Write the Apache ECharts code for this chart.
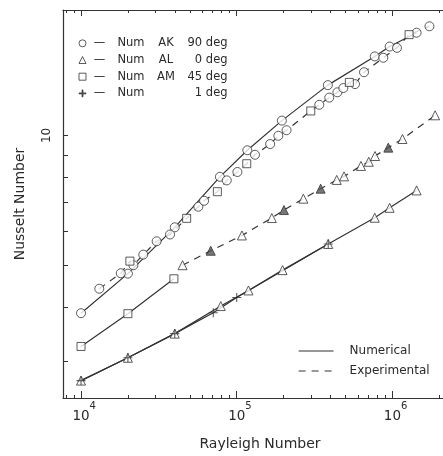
<!DOCTYPE html>
<html><head><meta charset="utf-8">
<script src="https://cdn.jsdelivr.net/npm/echarts@6/dist/echarts.min.js"></script>
<style>html,body{margin:0;padding:0;background:#fff}#c{width:443px;height:456px}</style>
</head><body><div id="c"></div>
<script>
// ---------- data (Rayleigh number, Nusselt number) ----------
// Numerical, solid lines
const numAK_Ra = [1e4, 2e4, 4e4, 7.8e4, 1.17e5, 1.95e5, 3.85e5, 7.7e5, 9.6e5, 1.43e6];
const numAK_Nu = [3.88, 4.79, 6.13, 8.02, 9.24, 10.82, 13.07, 15.23, 16.05, 17.28];
const numAM_Ra = [1e4, 2e4, 3.95e4];
const numAM_Nu = [3.25, 3.87, 4.66];
const numAL_Ra = [1e4, 2e4, 4e4, 7.9e4, 1.19e5, 1.97e5, 3.87e5, 7.7e5, 9.6e5, 1.43e6];
const numAL_Nu = [2.71, 3.06, 3.48, 4.03, 4.38, 4.88, 5.61, 6.45, 6.80, 7.46];
const num1_Ra  = [1e4, 2e4, 4e4, 7.07e4, 1e5, 3.87e5];
const num1_Nu  = [2.71, 3.06, 3.48, 3.89, 4.22, 5.61];
// Experimental, dashed lines
const expAK_Ra = [1.31e4, 1.80e4, 2.17e4, 2.51e4, 3.06e4, 3.73e4, 5.67e4, 6.17e4, 8.63e4, 1.01e5, 1.31e5, 1.64e5, 1.85e5, 2.09e5, 3.39e5, 3.93e5, 4.43e5, 4.84e5, 5.75e5, 6.57e5, 8.74e5, 1.07e6, 1.73e6];
const expAK_Nu = [4.42, 4.80, 5.01, 5.30, 5.69, 5.90, 6.84, 7.06, 7.87, 8.23, 9.02, 9.55, 9.98, 10.28, 11.77, 12.23, 12.58, 12.87, 13.14, 14.00, 15.12, 15.94, 17.88];
const expAM_Ra = [2.06e4, 4.77e4, 7.51e4, 1.16e5, 2.99e5, 5.29e5, 1.28e6];
const expAM_Nu = [5.12, 6.43, 7.41, 8.60, 11.39, 13.26, 17.10];
const expAL_Ra = [4.49e4, 6.81e4, 1.08e5, 1.68e5, 2.01e5, 2.68e5, 3.46e5, 4.39e5, 4.89e5, 6.28e5, 7.05e5, 7.73e5, 9.41e5, 1.16e6, 1.88e6];
const expAL_Nu = [5.01, 5.41, 5.87, 6.44, 6.72, 7.14, 7.53, 7.89, 8.04, 8.50, 8.69, 8.96, 9.37, 9.81, 11.13];

// ---------- ticks & labels ----------
const xMajorTicks = [1e4, 1e5, 1e6];
const xMinorTicks = [8e3, 9e3, 2e4, 3e4, 4e4, 5e4, 6e4, 7e4, 8e4, 9e4, 2e5, 3e5, 4e5, 5e5, 6e5, 7e5, 8e5, 9e5, 2e6];
const yTickVals = [3, 4, 5, 6, 7, 8, 9, 10];
const yLabelVals = [10];
const legendNames = ['Num AK 90 deg', 'Num AL 0 deg', 'Num AM 45 deg', 'Num 1 deg'];
const legendCols = [['AK', '90 deg'], ['AL', '0 deg'], ['AM', '45 deg'], ['', '1 deg']];
const lineKinds = ['Numerical', 'Experimental'];

// ---------- style ----------
const INK = '#333';
const TXT = '#2a2a2a';
const FONT = 'DejaVu Sans';
const X_MIN = 7660, X_MAX = 2.113e6, Y_MIN = 2.47, Y_MAX = 19.5;
const filledTri = [1, 4, 6, 12];
const PLUS = 'path://M4.4,0H5.6V4.4H10V5.6H5.6V10H4.4V5.6H0V4.4H4.4Z';

const zip = (xs, ys) => xs.map((x, i) => [x, ys[i]]);
const expUpper = zip(expAK_Ra, expAK_Nu).concat(zip(expAM_Ra, expAM_Nu)).sort((a, b) => a[0] - b[0]);

const hollow = {color: '#fff', borderColor: INK, borderWidth: 1};
function lineSeries(name, data, dashed) {
  return {name, type: 'line', data, symbol: 'none', z: 2, silent: true,
    lineStyle: {color: INK, width: 1.2, type: dashed ? [7, 6] : 'solid'},
    itemStyle: {color: INK}};
}
function markSeries(name, data, symbol, size, style) {
  return {name, type: 'scatter', data, symbol, symbolSize: size, z: 3, itemStyle: style};
}

const xBase = {type: 'log', logBase: 10, min: X_MIN, max: X_MAX, gridIndex: 0,
  splitLine: {show: false}, minorTick: {show: false}, minorSplitLine: {show: false}};

const option = {
  animation: false,
  backgroundColor: '#fff',
  grid: {left: 63, right: 0, top: 10, bottom: 53},
  xAxis: [
    Object.assign({}, xBase, {position: 'bottom',
      name: 'Rayleigh Number', nameLocation: 'middle', nameGap: 39,
      nameTextStyle: {color: TXT, fontFamily: FONT, fontSize: 14, padding: [0, 0, 0, 14]},
      axisLine: {show: true, lineStyle: {color: INK, width: 1.2}},
      axisTick: {show: true, inside: true, length: 7, customValues: xMajorTicks, lineStyle: {color: INK, width: 1}},
      axisLabel: {show: true, customValues: xMajorTicks, margin: 3, color: TXT, fontFamily: FONT,
        formatter: v => { const e = Math.round(Math.log10(v)); return '{h|' + e + '}{b|10}{s|' + e + '}'; },
        rich: {
          b: {fontSize: 13.5, lineHeight: 22, verticalAlign: 'bottom', fontFamily: FONT, color: TXT},
          s: {fontSize: 10, lineHeight: 10, verticalAlign: 'top', fontFamily: FONT, color: TXT},
          h: {fontSize: 10, lineHeight: 10, verticalAlign: 'top', fontFamily: FONT, color: 'rgba(0,0,0,0)'}
        }}}),
    Object.assign({}, xBase, {position: 'bottom',
      axisLine: {show: false},
      axisTick: {show: true, inside: true, length: 3, customValues: xMinorTicks, lineStyle: {color: INK, width: 1}},
      axisLabel: {show: false}}),
    Object.assign({}, xBase, {position: 'top',
      axisLine: {show: true, lineStyle: {color: INK, width: 1.2}},
      axisTick: {show: true, inside: true, length: 6, customValues: xMajorTicks, lineStyle: {color: INK, width: 1}},
      axisLabel: {show: false}}),
    Object.assign({}, xBase, {position: 'top',
      axisLine: {show: false},
      axisTick: {show: true, inside: true, length: 3, customValues: xMinorTicks, lineStyle: {color: INK, width: 1}},
      axisLabel: {show: false}})
  ],
  yAxis: [{
    type: 'log', logBase: 10, min: Y_MIN, max: Y_MAX, position: 'left',
    name: 'Nusselt Number', nameLocation: 'middle', nameGap: 36, nameRotate: 90,
    nameTextStyle: {color: TXT, fontFamily: FONT, fontSize: 14},
    splitLine: {show: false}, minorTick: {show: false},
    axisLine: {show: true, lineStyle: {color: INK, width: 1.2}},
    axisTick: {show: true, inside: true, length: 5, customValues: yTickVals, lineStyle: {color: INK, width: 1}},
    axisLabel: {show: true, customValues: yLabelVals, rotate: 90, margin: 10, color: TXT,
      fontFamily: FONT, fontSize: 12, formatter: v => String(Math.round(v))}
  }],
  legend: [
    {data: legendNames, orient: 'vertical', left: 78.5, top: 37.3, padding: 0,
      itemWidth: 7, itemHeight: 7, itemGap: 4.7,
      itemStyle: {borderColor: INK, borderWidth: 1},
      textStyle: {color: TXT, fontFamily: FONT, fontSize: 11.5, lineHeight: 12,
        rich: {
          d: {width: 17, align: 'center', fontFamily: FONT, fontSize: 11.5, color: TXT},
          n: {width: 42, padding: [0, 0, 0, 2], fontFamily: FONT, fontSize: 11.5, color: TXT},
          k: {width: 28, fontFamily: FONT, fontSize: 11.5, color: TXT},
          g: {width: 47.5, align: 'right', fontFamily: FONT, fontSize: 11.5, color: TXT}
        }},
      formatter: name => { const c = legendCols[legendNames.indexOf(name)]; return '{d|—}{n|Num}{k|' + (c[0] || ' ') + '}{g|' + c[1] + '}'; }
    },
    {data: lineKinds, orient: 'vertical', left: 298, top: 344, padding: 0,
      itemWidth: 35, itemHeight: 10, itemGap: 6,
      itemStyle: {opacity: 0},
      lineStyle: {color: INK, width: 1.2},
      textStyle: {color: TXT, fontFamily: FONT, fontSize: 12, lineHeight: 14, padding: [0, 0, 0, 11]}
    }
  ],
  series: [
    lineSeries('Numerical', zip(numAK_Ra, numAK_Nu), false),
    lineSeries('Numerical', zip(numAM_Ra, numAM_Nu), false),
    lineSeries('Numerical', zip(numAL_Ra, numAL_Nu), false),
    lineSeries('Numerical', zip(num1_Ra, num1_Nu), false),
    lineSeries('Experimental', expUpper, true),
    lineSeries('Experimental', zip(expAL_Ra, expAL_Nu), true),
    markSeries('Num AK 90 deg', zip(numAK_Ra, numAK_Nu).concat(zip(expAK_Ra, expAK_Nu)), 'circle', 9, hollow),
    markSeries('Num AM 45 deg', zip(numAM_Ra, numAM_Nu).concat(zip(expAM_Ra, expAM_Nu)), 'rect', 8, hollow),
    markSeries('Num AL 0 deg', zip(numAL_Ra, numAL_Nu).concat(zip(expAL_Ra, expAL_Nu).map((p, i) =>
      filledTri.indexOf(i) >= 0 ? {value: p, itemStyle: {color: '#555', borderColor: INK, borderWidth: 1}} : p)),
      'triangle', 9, hollow),
    markSeries('Num 1 deg', zip(num1_Ra, num1_Nu), PLUS, 9, {color: INK})
  ]
};
const chart = echarts.init(document.getElementById('c'), null, {renderer: 'canvas'});
chart.setOption(option);
</script></body></html>
